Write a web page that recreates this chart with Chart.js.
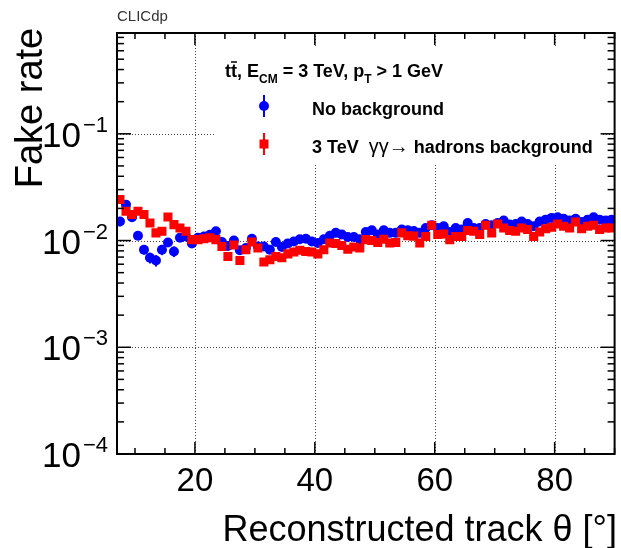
<!DOCTYPE html>
<html>
<head>
<meta charset="utf-8">
<script src="https://cdn.jsdelivr.net/npm/chart.js@4.4.0/dist/chart.umd.min.js"></script>
<style>
  html, body { margin: 0; padding: 0; background: #fff; }
  canvas { display: block; }
</style>
</head>
<body>
<canvas id="c" width="621" height="548"></canvas>
<script>
// theta bin centres (1 degree bins, 7 -> 90)
var thetaBins = [
  7.5, 8.5, 9.5, 10.5, 11.5, 12.5, 13.5, 14.5, 15.5, 16.5,
  17.5, 18.5, 19.5, 20.5, 21.5, 22.5, 23.5, 24.5, 25.5, 26.5,
  27.5, 28.5, 29.5, 30.5, 31.5, 32.5, 33.5, 34.5, 35.5, 36.5,
  37.5, 38.5, 39.5, 40.5, 41.5, 42.5, 43.5, 44.5, 45.5, 46.5,
  47.5, 48.5, 49.5, 50.5, 51.5, 52.5, 53.5, 54.5, 55.5, 56.5,
  57.5, 58.5, 59.5, 60.5, 61.5, 62.5, 63.5, 64.5, 65.5, 66.5,
  67.5, 68.5, 69.5, 70.5, 71.5, 72.5, 73.5, 74.5, 75.5, 76.5,
  77.5, 78.5, 79.5, 80.5, 81.5, 82.5, 83.5, 84.5, 85.5, 86.5,
  87.5, 88.5, 89.5
];

// fake rate, no background
var noBkgRate = [
  0.0151, 0.0217, 0.0165, 0.0111, 0.0082, 0.0069, 0.0065, 0.0082, 0.0096, 0.0079,
  0.0106, 0.0109, 0.0094, 0.0106, 0.0109, 0.0113, 0.0122, 0.0097, 0.0089, 0.0100,
  0.0081, 0.0085, 0.0104, 0.0088, 0.0088, 0.0082, 0.0097, 0.0087, 0.0094, 0.0098,
  0.0103, 0.0104, 0.0098, 0.0095, 0.0103, 0.0111, 0.0118, 0.0114, 0.0108, 0.0108,
  0.0103, 0.0120, 0.0125, 0.0114, 0.0125, 0.0118, 0.0118, 0.0127, 0.0125, 0.0123,
  0.0118, 0.0131, 0.0139, 0.0131, 0.0136, 0.0120, 0.0131, 0.0127, 0.0146, 0.0131,
  0.0131, 0.0143, 0.0139, 0.0146, 0.0154, 0.0141, 0.0143, 0.0151, 0.0143, 0.0136,
  0.0151, 0.0157, 0.0163, 0.0165, 0.0160, 0.0154, 0.0160, 0.0149, 0.0157, 0.0165,
  0.0157, 0.0154, 0.0157
];
// errors only where they stick out of the markers
var noBkgErr = [
  0.0015, 0.0013, 0.0011, 0.0009, 0.0008, 0.0008, 0.0008, 0.0009, 0.0009, 0.0009,
  0.0008, 0.0008, 0.0007
];

// fake rate, 3 TeV gg -> hadrons overlay
var bkgRate = [
  0.0242, 0.0188, 0.0175, 0.0188, 0.0175, 0.0146, 0.0118, 0.0122, 0.0166, 0.0141,
  0.0131, 0.0122, 0.0102, 0.0102, 0.0104, 0.0106, 0.0102, 0.0088, 0.0071, 0.0091,
  0.0065, 0.0082, 0.0097, 0.0085, 0.0063, 0.0066, 0.0071, 0.0069, 0.0075, 0.0078,
  0.0081, 0.0079, 0.0078, 0.0075, 0.0082, 0.0095, 0.0094, 0.0090, 0.0083, 0.0087,
  0.0085, 0.0102, 0.0100, 0.0096, 0.0103, 0.0095, 0.0096, 0.0118, 0.0111, 0.0110,
  0.0095, 0.0109, 0.0139, 0.0114, 0.0115, 0.0102, 0.0109, 0.0109, 0.0124, 0.0122,
  0.0114, 0.0139, 0.0118, 0.0143, 0.0131, 0.0124, 0.0122, 0.0131, 0.0127, 0.0109,
  0.0120, 0.0129, 0.0133, 0.0143, 0.0136, 0.0131, 0.0149, 0.0129, 0.0136, 0.0139,
  0.0127, 0.0131, 0.0131
];
var bkgErr = [0.0014, 0.0011, 0.0010, 0.0010];

var xTicks = [20, 40, 60, 80];
var yTicks = [1e-1, 1e-2, 1e-3, 1e-4];
var yExps = ['\u22121', '\u22122', '\u22123', '\u22124'];

var FONT = '"Liberation Sans", Arial, Helvetica, sans-serif';
var BLUE = '#0000ff';
var RED = '#ff0000';

function pts(xs, ys) {
    return xs.map(function (x, i) { return { x: x, y: ys[i] }; });
}

function line(ctx, x1, y1, x2, y2) {
    ctx.beginPath();
    ctx.moveTo(x1, y1);
    ctx.lineTo(x2, y2);
    ctx.stroke();
}

function drawErrors(chart, ys, errs, color) {
    var ctx = chart.ctx, x = chart.scales.x, y = chart.scales.y;
    ctx.save();
    ctx.strokeStyle = color;
    ctx.lineWidth = 2;
    errs.forEach(function (e, i) {
        var px = x.getPixelForValue(thetaBins[i]);
        line(ctx, px, y.getPixelForValue(ys[i] + e), px, y.getPixelForValue(ys[i] - e));
    });
    ctx.restore();
}

var rootStyle = {
    id: 'rootStyle',
    beforeDatasetsDraw: function (chart) {
        var ctx = chart.ctx, a = chart.chartArea, x = chart.scales.x, y = chart.scales.y;
        ctx.save();
        ctx.strokeStyle = '#444';
        ctx.lineWidth = 1;
        ctx.setLineDash([1, 2]);
        xTicks.forEach(function (v) {
            var px = Math.round(x.getPixelForValue(v)) + 0.5;
            line(ctx, px, a.top, px, a.bottom);
        });
        yTicks.forEach(function (v) {
            var py = Math.round(y.getPixelForValue(v)) + 0.5;
            if (py < a.bottom - 2) line(ctx, a.left, py, a.right, py);
        });
        ctx.restore();
        // legend box hides the grid behind it
        ctx.fillStyle = '#fff';
        ctx.fillRect(216, 46, 386, 117);

        drawErrors(chart, noBkgRate, noBkgErr, BLUE);
        drawErrors(chart, bkgRate, bkgErr, RED);
    },
    afterDatasetsDraw: function (chart) {
        var ctx = chart.ctx, a = chart.chartArea, x = chart.scales.x, y = chart.scales.y;
        ctx.save();
        ctx.strokeStyle = '#000';
        ctx.fillStyle = '#000';
        ctx.lineWidth = 2;
        ctx.strokeRect(a.left, a.top, a.right - a.left, a.bottom - a.top);

        // x ticks (inward), majors every 20, minors every 5
        ctx.lineWidth = 1.5;
        for (var v = 10; v <= 90; v += 5) {
            var px = x.getPixelForValue(v);
            var len = (v % 20 === 0) ? 12 : 6;
            line(ctx, px, a.bottom, px, a.bottom - len);
            line(ctx, px, a.top, px, a.top + len);
        }
        // y ticks (inward), log
        for (var e = -4; e <= -1; e++) {
            for (var m = 1; m <= 9; m++) {
                var val = m * Math.pow(10, e);
                if (val > y.max) break;
                var py = y.getPixelForValue(val);
                var l = (m === 1) ? 14 : 7;
                line(ctx, a.left, py, a.left + l, py);
                line(ctx, a.right, py, a.right - l, py);
            }
        }

        // tick labels
        ctx.font = '33px ' + FONT;
        ctx.textAlign = 'center';
        ctx.textBaseline = 'alphabetic';
        xTicks.forEach(function (v) {
            ctx.fillText(String(v), x.getPixelForValue(v), 491);
        });
        yTicks.forEach(function (v, i) {
            var py = y.getPixelForValue(v);
            ctx.font = '22px ' + FONT;
            ctx.textAlign = 'right';
            var supW = ctx.measureText(yExps[i]).width;
            ctx.fillText(yExps[i], 108, py - 2);
            ctx.font = '35px ' + FONT;
            ctx.fillText('10', 108 - supW - 2, py + 13);
        });

        // axis titles
        ctx.font = '36px ' + FONT;
        ctx.textAlign = 'right';
        ctx.fillText('Reconstructed track \u03b8 [\u00b0]', 617, 541);
        ctx.save();
        ctx.translate(42, 108);
        ctx.rotate(-Math.PI / 2);
        ctx.textAlign = 'center';
        ctx.font = '38px ' + FONT;
        ctx.fillText('Fake rate', 0, 0);
        ctx.restore();

        ctx.font = '15px ' + FONT;
        ctx.fillStyle = '#333';
        ctx.textAlign = 'left';
        ctx.fillText('CLICdp', 117, 21);

        // legend
        ctx.fillStyle = '#000';
        var bold = 'bold 18px ' + FONT, sub = 'bold 12px ' + FONT;
        var cx = 225, base = 77;
        ctx.font = bold;
        ctx.fillText('t', cx, base);
        cx += ctx.measureText('t').width;
        var tw = ctx.measureText('t').width;
        ctx.fillText('t', cx, base);
        ctx.lineWidth = 1.5;
        line(ctx, cx, base - 15, cx + tw, base - 15);
        cx += tw;
        var parts = [[', E', bold, 0], ['CM', sub, 6], [' = 3 TeV, p', bold, 0], ['T', sub, 6], [' > 1 GeV', bold, 0]];
        parts.forEach(function (p) {
            ctx.font = p[1];
            ctx.fillText(p[0], cx, base + p[2]);
            cx += ctx.measureText(p[0]).width;
        });

        ctx.font = bold;
        ctx.fillText('No background', 312, 115);
        var tx = 312;
        ctx.fillText('3 TeV  ', tx, 153);
        tx += ctx.measureText('3 TeV  ').width;
        ctx.font = '20px ' + FONT;
        ctx.fillText('\u03b3\u03b3\u2192', tx, 153);
        tx += ctx.measureText('\u03b3\u03b3\u2192').width;
        ctx.font = bold;
        ctx.fillText(' hadrons background', tx, 153);

        // legend markers
        ctx.lineWidth = 2;
        ctx.strokeStyle = BLUE;
        line(ctx, 264, 95, 264, 117);
        ctx.fillStyle = BLUE;
        ctx.beginPath();
        ctx.arc(264, 106, 5, 0, Math.PI * 2);
        ctx.fill();
        ctx.strokeStyle = RED;
        line(ctx, 264, 133, 264, 155);
        ctx.fillStyle = RED;
        ctx.fillRect(259.5, 139.5, 9, 9);
        ctx.restore();
    }
};

new Chart(document.getElementById('c').getContext('2d'), {
    type: 'scatter',
    data: {
        datasets: [
            {
                label: 'No background',
                data: pts(thetaBins, noBkgRate),
                pointStyle: 'circle',
                pointRadius: 5,
                backgroundColor: BLUE,
                borderWidth: 0,
                order: 2
            },
            {
                label: '3 TeV gg -> hadrons background',
                data: pts(thetaBins, bkgRate),
                pointStyle: 'rect',
                pointRadius: 6.4,
                backgroundColor: RED,
                borderWidth: 0,
                order: 1
            }
        ]
    },
    options: {
        responsive: false,
        animation: false,
        layout: { padding: { left: 117, right: 6, top: 33, bottom: 94 } },
        plugins: { legend: { display: false }, tooltip: { enabled: false } },
        scales: {
            x: { type: 'linear', min: 7, max: 90, display: false },
            y: { type: 'logarithmic', min: 1e-4, max: 0.88, display: false }
        }
    },
    plugins: [rootStyle]
});
</script>
</body>
</html>
